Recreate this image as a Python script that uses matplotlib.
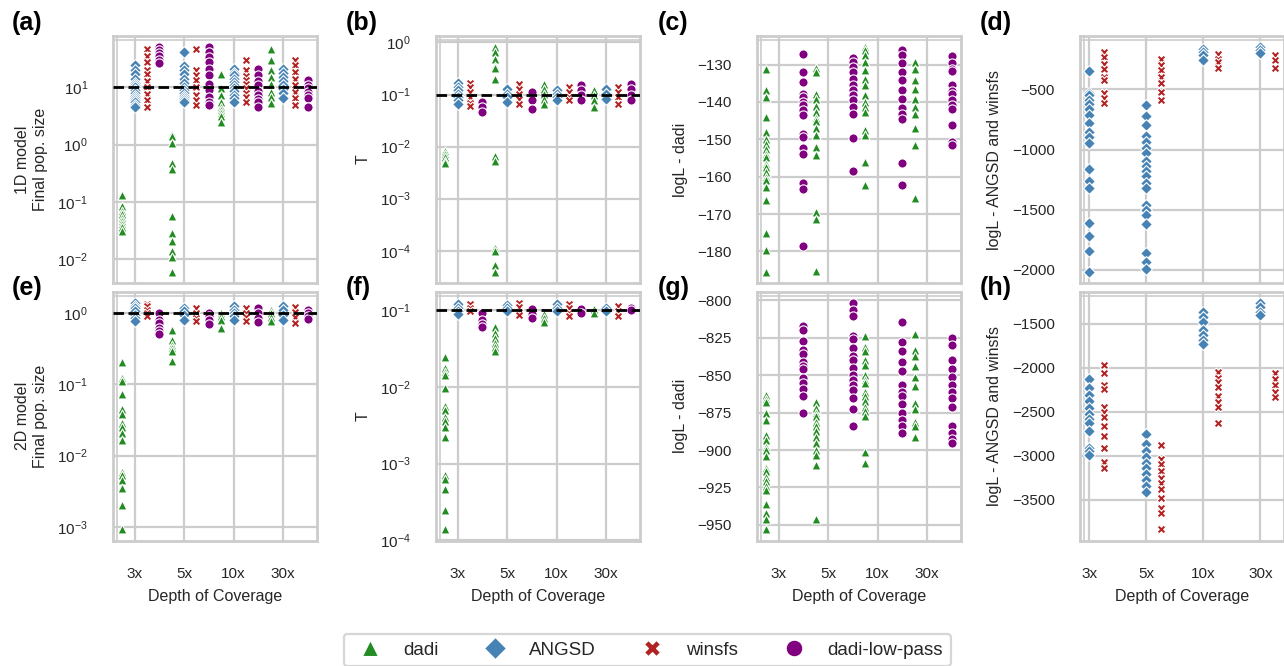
import numpy as np
import matplotlib
matplotlib.use("Agg")
import matplotlib.pyplot as plt
from matplotlib.lines import Line2D
import matplotlib.transforms as mtransforms

coverages = ["3x", "5x", "10x", "30x"]
methods = ["dadi", "ANGSD", "winsfs", "dadi-low-pass"]

# ---------------- (a) 1D model, final pop. size ----------------
a_dadi = [[0.13, 0.085, 0.069, 0.06, 0.053, 0.047, 0.041, 0.036, 0.031],
          [1.55, 1.4, 1.07, 0.48, 0.37, 0.057, 0.029, 0.021, 0.014, 0.011, 0.0059],
          [17.5, 9.6, 7.4, 5.6, 4.6, 4.0, 3.5, 3.1, 2.5],
          [47, 30, 20, 15.3, 11.7, 8.4, 6.9, 5.3]]
a_angsd = [[24.5, 20, 17, 14, 12, 11, 10, 9, 8, 7, 6.5, 6, 5.5, 5, 4.6],
           [42, 24, 20, 17, 14, 12, 10, 9, 8, 7, 6.5, 6, 5.6],
           [21, 18, 16.4, 14, 12.5, 11, 9.6, 8.5, 7.4, 6.5, 5.6],
           [21, 18, 15.3, 13, 10.9, 9.3, 7.9, 6.4]]
a_winsfs = [[47, 36, 28, 20, 17, 13, 10, 7.6, 6, 4.6],
            [47, 20, 16.5, 13.4, 10.3, 7.4, 6, 4.9],
            [30.6, 20, 16, 13.4, 11.5, 9.6, 8, 6.9, 5.6],
            [30, 24.5, 18.7, 14.3, 10.9, 8.4, 6.4, 4.9]]
a_lowpass = [[51, 45, 40, 36, 30, 27],
             [51, 42, 34, 28, 21.4, 16.3, 11.7, 9, 6.9, 5.6, 4.9],
             [21, 16.4, 13, 10.9, 8.8, 7.4, 6.3, 5.6, 4.6],
             [13.4, 11, 9.6, 8.4, 7.3, 6.4, 4.6]]

# ---------------- (b) 1D model, T ----------------
b_dadi = [[0.0083, 0.0072, 0.0062, 0.0053, 0.0049],
          [0.82, 0.65, 0.49, 0.36, 0.32, 0.2, 0.0066, 0.0053, 0.000113, 9.7e-5, 5.4e-5, 3.9e-5],
          [0.16, 0.128, 0.103, 0.082, 0.066],
          [0.12, 0.096, 0.077, 0.057]]
b_angsd = [[0.17, 0.14, 0.12, 0.103, 0.089, 0.077, 0.066],
           [0.128, 0.103, 0.089, 0.071],
           [0.12, 0.103, 0.089, 0.077],
           [0.128, 0.103, 0.082]]
b_winsfs = [[0.17, 0.14, 0.11, 0.09, 0.07, 0.061],
            [0.16, 0.128, 0.103, 0.082, 0.066],
            [0.14, 0.11, 0.09, 0.077],
            [0.14, 0.11, 0.09, 0.066]]
b_lowpass = [[0.071, 0.057, 0.046],
             [0.11, 0.077, 0.053],
             [0.15, 0.12, 0.096, 0.077],
             [0.16, 0.128, 0.096, 0.077]]

# ---------------- (c) 1D model, logL dadi ----------------
c_dadi = [[-131.25, -136.9, -138.8, -144, -148, -149.8, -151.2, -152.5, -153.8, -154.7,
           -156.5, -157.4, -158.75, -160.1, -161, -162.8, -166.1, -175, -179.5, -185.5],
          [-130.9, -132.1, -138, -139.1, -141.1, -142.7, -144.3, -145.2, -147, -148.9,
           -152, -154.1, -169.5, -171.4, -185.1],
          [-125.3, -126.2, -127.5, -129.3, -131.5, -133.75, -135.5, -138.2, -140, -141.3,
           -142.7, -147.6, -148.75, -156.1, -162.3],
          [-129.3, -131.25, -134.2, -136.6, -139.3, -141.3, -143.1, -147.1, -151.6, -165.7]]
c_lowpass = [[-127.3, -132.1, -134.6, -137.8, -138.7, -140, -140.9, -142.2, -143.6, -148.5,
              -149.4, -152.3, -153.8, -161.6, -163.2, -178.6],
             [-128.2, -129.3, -130.6, -132.1, -133.75, -135.5, -136.9, -138.2, -139.6,
              -141.3, -143.1, -149.6, -158.6],
             [-126.2, -127.5, -129.6, -132, -134.2, -136.7, -139.1, -141.6, -143.1, -144.5,
              -156.25, -162.1],
             [-127.7, -129.6, -131.1, -131.8, -135.4, -137.1, -138, -139.6, -140.9, -141.8,
              -146.25, -150.7, -151.6]]

# ---------------- (d) 1D model, logL ANGSD / winsfs ----------------
d_angsd = [[-345, -528, -547, -588, -621, -665, -712, -781, -850, -892, -941, -1162, -1264,
            -1319, -1609, -1719, -1843, -2017],
           [-630, -721, -795, -886, -933, -988, -1030, -1098, -1140, -1181, -1223, -1278,
            -1319, -1457, -1498, -1540, -1614, -1857, -1934, -1995],
           [-161, -188, -216, -257],
           [-147, -169, -197]]
d_winsfs = [[-188, -230, -285, -326, -395, -423, -533, -574, -616],
            [-243, -299, -340, -395, -450, -519, -588],
            [-202, -243, -271, -318],
            [-216, -257, -318]]

# ---------------- (e) 2D model, final pop. size ----------------
e_dadi = [[0.205, 0.124, 0.111, 0.073, 0.045, 0.038, 0.029, 0.025, 0.021, 0.0166, 0.0059,
           0.0053, 0.0045, 0.0035, 0.002, 0.00092],
          [0.57, 0.42, 0.36, 0.32, 0.29, 0.21],
          [1.0, 0.9, 0.81, 0.62],
          [1.11, 1.0, 0.87, 0.77]]
e_angsd = [[1.38, 1.27, 1.17, 1.06, 0.95, 0.85, 0.78],
           [1.17, 1.06, 0.95, 0.81],
           [1.24, 1.11, 1.0, 0.9, 0.81],
           [1.24, 1.11, 0.95, 0.81]]
e_winsfs = [[1.35, 1.24, 1.11, 1.0, 0.9],
            [1.17, 1.0, 0.85, 0.77],
            [1.17, 1.0, 0.87, 0.78],
            [1.2, 1.03, 0.87, 0.72]]
e_lowpass = [[1.0, 0.81, 0.72, 0.62, 0.55, 0.5],
             [1.0, 0.9, 0.81, 0.69],
             [1.17, 1.0, 0.85, 0.75],
             [1.11, 1.0, 0.9, 0.83]]

# ---------------- (f) 2D model, T ----------------
f_dadi = [[0.0247, 0.0176, 0.0159, 0.0144, 0.0097, 0.0057, 0.005, 0.004, 0.0036, 0.003,
           0.0022, 0.0007, 0.00062, 0.00046, 0.00025, 0.000138],
          [0.06, 0.051, 0.044, 0.038, 0.033, 0.0296],
          [0.089, 0.079, 0.071],
          [0.103, 0.093]]
f_angsd = [[0.12, 0.108, 0.098, 0.09],
           [0.117, 0.106, 0.098],
           [0.12, 0.108, 0.098],
           [0.108, 0.098]]
f_winsfs = [[0.12, 0.108, 0.098],
            [0.125, 0.11, 0.096, 0.087],
            [0.122, 0.106, 0.093, 0.084],
            [0.114, 0.098, 0.084]]
f_lowpass = [[0.093, 0.076, 0.067, 0.06],
             [0.103, 0.089, 0.08],
             [0.103, 0.093],
             [0.108, 0.1]]

# ---------------- (g) 2D model, logL dadi ----------------
g_dadi = [[-863, -866, -868, -875, -880, -890, -893, -898, -900, -904, -912, -914, -918,
           -921, -924, -926.5, -936, -942, -946, -953],
          [-868, -872, -875, -877.5, -881, -884, -887.6, -891, -895, -900, -903, -910, -946],
          [-824, -831, -834, -839.7, -843, -850, -853, -855, -861, -864, -867.5, -871, -874,
           -877.5, -901, -908.7],
          [-822.5, -833, -837.4, -844, -851, -857, -868.6, -872.6, -881.5, -884, -891]]
g_lowpass = [[-817, -819.6, -827, -833, -836, -841, -843.7, -846, -852, -855, -859, -864, -875],
             [-801.8, -806.7, -810.7, -824, -826, -832, -837, -839.7, -845, -850, -853,
              -856.4, -859.7, -865, -872.6, -884],
             [-814.7, -828, -834, -841, -847.5, -856.4, -861.5, -864, -869, -875, -880, -884,
              -888.7],
             [-825, -830, -839.7, -846, -851, -856.4, -861, -865, -871, -884, -888.7, -892.7,
              -895]]

# ---------------- (h) 2D model, logL ANGSD / winsfs ----------------
h_angsd = [[-2126, -2229, -2305, -2380, -2456, -2525, -2582, -2631, -2714, -2905, -2950, -2988],
           [-2752, -2866, -2942, -3010, -3075, -3132, -3208, -3276, -3341, -3405],
           [-1367, -1424, -1481, -1568, -1633, -1690, -1735],
           [-1265, -1310, -1367, -1405]]
h_winsfs = [[-1974, -2062, -2191, -2240, -2441, -2506, -2563, -2657, -2771, -2905, -3064, -3140],
            [-2874, -3037, -3094, -3177, -3246, -3303, -3379, -3473, -3587, -3644, -3834],
            [-2050, -2115, -2164, -2221, -2316, -2392, -2441, -2631],
            [-2062, -2126, -2191, -2278, -2335]]

true_size_1d = 10
true_T = 0.1
true_size_2d = 1

# ---------------- style ----------------
FONT = "Liberation Sans"
plt.rcParams.update({
    "font.family": [FONT, "DejaVu Sans"],
    "mathtext.fontset": "custom",
    "mathtext.rm": FONT,
    "mathtext.it": FONT + ":italic",
    "mathtext.bf": FONT + ":bold",
    "font.size": 11,
    "text.color": "#262626",
    "axes.labelcolor": "#262626",
    "xtick.color": "#262626",
    "ytick.color": "#262626",
    "axes.edgecolor": "#cccccc",
    "axes.linewidth": 2.0,
    "grid.color": "#cccccc",
    "grid.linewidth": 1.6,
    "xtick.major.size": 0,
    "ytick.major.size": 0,
    "xtick.minor.size": 0,
    "ytick.minor.size": 0,
})

STY = {
    "dadi": dict(marker="^", color="#228b22", s=42),
    "ANGSD": dict(marker="D", color="#4682b4", s=36),
    "winsfs": dict(marker="X", color="#b22222", s=40),
    "dadi-low-pass": dict(marker="o", color="#800080", s=44),
}

W, H = 1284, 666
fig = plt.figure(figsize=(W / 100, H / 100), dpi=100)

col_left = [113, 436, 757, 1080]
ax_w = 204
row_top = [35.7, 291.7]
ax_h = [247.6, 249.0]


def make_ax(r, c):
    left = col_left[c] / W
    bottom = (H - row_top[r] - ax_h[r]) / H
    return fig.add_axes([left, bottom, ax_w / W, ax_h[r] / H])


def draw(ax, series, true=None, log=False, yticks=None, bottom_row=False, ylabel=""):
    ax.set_axisbelow(True)
    ax.grid(True, which="major")
    for name, data in series:
        j = methods.index(name)
        st = STY[name]
        for i, vals in enumerate(data):
            xs = np.full(len(vals), 4 * i + j, dtype=float)
            ax.scatter(xs, vals, marker=st["marker"], s=st["s"], color=st["color"],
                       edgecolors="white", linewidths=0.8, zorder=3)
    if log:
        ax.set_yscale("log")
    if true is not None:
        ax.axhline(true, color="black", lw=2.0, ls=(0, (3.8, 1.6)), zorder=5)
    if yticks is not None:
        ax.set_yticks(yticks)
    ax.set_xticks([4 * i + 1 for i in range(4)])
    if bottom_row:
        ax.set_xticklabels(coverages)
        ax.set_xlabel("Depth of Coverage", fontsize=11.5, labelpad=6)
    else:
        ax.set_xticklabels([])
    ax.tick_params(axis="x", pad=19, labelsize=11)
    ax.tick_params(axis="y", pad=18, labelsize=11)
    ax.yaxis.set_minor_locator(matplotlib.ticker.NullLocator())
    ax.set_ylabel(ylabel, fontsize=11.5, labelpad=7)
    # inner frame line (left / top)
    off_l = mtransforms.ScaledTranslation(3.8 / 100, 0, fig.dpi_scale_trans)
    off_t = mtransforms.ScaledTranslation(0, -3.8 / 100, fig.dpi_scale_trans)
    ax.add_line(Line2D([0, 0], [0, 1], transform=ax.transAxes + off_l,
                       color="#cccccc", lw=1.2, zorder=1, clip_on=False))
    ax.add_line(Line2D([0, 1], [1, 1], transform=ax.transAxes + off_t,
                       color="#cccccc", lw=1.2, zorder=1, clip_on=False))


ax = make_ax(0, 0)
draw(ax, [("dadi", a_dadi), ("ANGSD", a_angsd), ("winsfs", a_winsfs), ("dadi-low-pass", a_lowpass)],
     true=true_size_1d, log=True, ylabel="1D model\nFinal pop. size")
ax = make_ax(0, 1)
draw(ax, [("dadi", b_dadi), ("ANGSD", b_angsd), ("winsfs", b_winsfs), ("dadi-low-pass", b_lowpass)],
     true=true_T, log=True, ylabel="T")
ax = make_ax(0, 2)
draw(ax, [("dadi", c_dadi), ("dadi-low-pass", c_lowpass)],
     yticks=[-180, -170, -160, -150, -140, -130], ylabel="logL - dadi")
ax = make_ax(0, 3)
draw(ax, [("ANGSD", d_angsd), ("winsfs", d_winsfs)],
     yticks=[-2000, -1500, -1000, -500], ylabel="logL - ANGSD and winsfs")
ax = make_ax(1, 0)
draw(ax, [("dadi", e_dadi), ("ANGSD", e_angsd), ("winsfs", e_winsfs), ("dadi-low-pass", e_lowpass)],
     true=true_size_2d, log=True, bottom_row=True, ylabel="2D model\nFinal pop. size")
ax = make_ax(1, 1)
draw(ax, [("dadi", f_dadi), ("ANGSD", f_angsd), ("winsfs", f_winsfs), ("dadi-low-pass", f_lowpass)],
     true=true_T, log=True, bottom_row=True, ylabel="T")
ax = make_ax(1, 2)
draw(ax, [("dadi", g_dadi), ("dadi-low-pass", g_lowpass)],
     yticks=[-950, -925, -900, -875, -850, -825, -800], bottom_row=True, ylabel="logL - dadi")
ax = make_ax(1, 3)
draw(ax, [("ANGSD", h_angsd), ("winsfs", h_winsfs)],
     yticks=[-3500, -3000, -2500, -2000, -1500], bottom_row=True, ylabel="logL - ANGSD and winsfs")

# panel letters
letters = [["(a)", "(b)", "(c)", "(d)"], ["(e)", "(f)", "(g)", "(h)"]]
letter_x = [12, 346, 658, 980]
letter_y = [23, 288]
for r in range(2):
    for c in range(4):
        fig.text(letter_x[c] / W, 1 - letter_y[r] / H, letters[r][c], fontsize=18,
                 fontweight="bold", ha="left", va="center", color="black")

# legend
handles = [Line2D([], [], ls="none", marker=STY[m]["marker"], color=STY[m]["color"],
                  markeredgecolor="white", markeredgewidth=0.8,
                  markersize=12 if m != "ANGSD" else 11) for m in methods]
leg = fig.legend(handles, methods, loc="center", bbox_to_anchor=(647 / W, 1 - 650 / H),
                 ncol=4, frameon=True, fontsize=13.5, handlelength=2.0, handletextpad=0.8,
                 columnspacing=2.0, borderpad=0.4, fancybox=True)
leg.get_frame().set_edgecolor("#cccccc")
leg.get_frame().set_linewidth(1.6)

fig.savefig("out.png", dpi=100)
